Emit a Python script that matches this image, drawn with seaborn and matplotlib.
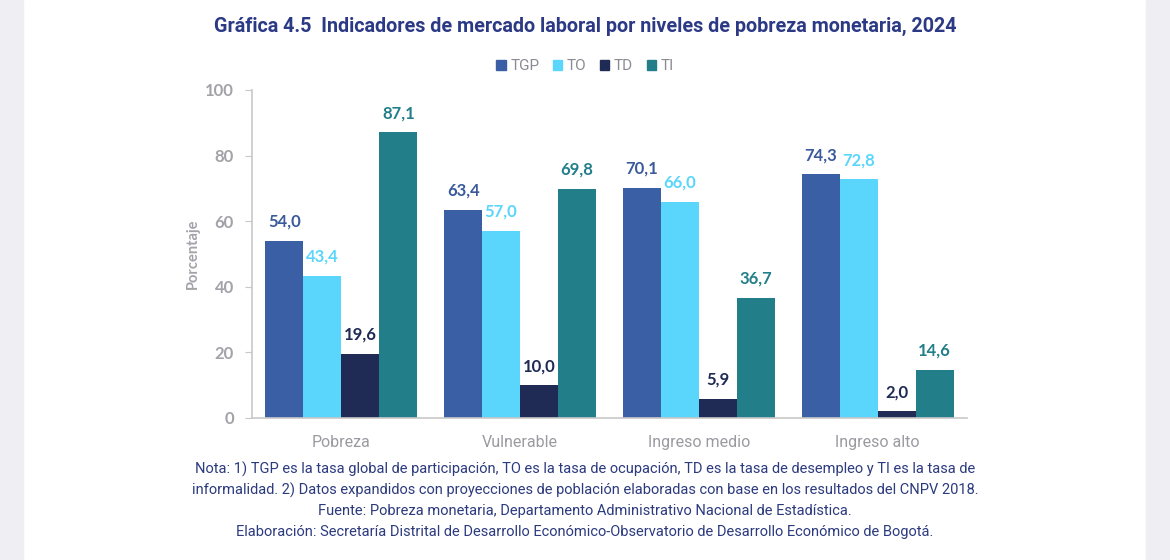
import pandas as pd
import numpy as np
import matplotlib.pyplot as plt
import seaborn as sns
from matplotlib.patches import Rectangle

categorias = ['Pobreza', 'Vulnerable', 'Ingreso medio', 'Ingreso alto']
indicadores = ['TGP', 'TO', 'TD', 'TI']
tgp = [54.0, 63.4, 70.1, 74.3]
to = [43.4, 57.0, 66.0, 72.8]
td = [19.6, 10.0, 5.9, 2.0]
ti = [87.1, 69.8, 36.7, 14.6]

colores = ['#3A5FA5', '#5AD6FC', '#1F2A55', '#227F8A']
color_etiquetas = ['#3A5A9C', '#5AD6FC', '#1F2A55', '#227F8A']

titulo = 'Gráfica 4.5  Indicadores de mercado laboral por niveles de pobreza monetaria, 2024'
notas = ['Nota: 1) TGP es la tasa global de participación, TO es la tasa de ocupación, TD es la tasa de desempleo y TI es la tasa de',
         'informalidad. 2) Datos expandidos con proyecciones de población elaboradas con base en los resultados del CNPV 2018.',
         'Fuente: Pobreza monetaria, Departamento Administrativo Nacional de Estadística.',
         'Elaboración: Secretaría Distrital de Desarrollo Económico-Observatorio de Desarrollo Económico de Bogotá.']

df = pd.DataFrame({'categoria': categorias * 4,
                   'indicador': np.repeat(indicadores, 4),
                   'valor': tgp + to + td + ti})

sns.set_style('white')
plt.rcParams['font.family'] = ['Roboto', 'DejaVu Sans']

fig = plt.figure(figsize=(11.7, 5.6), dpi=100, facecolor='white')
ax = fig.add_axes([0.2154, 0.2536, 0.6112, 0.5857])

sns.barplot(data=df, x='categoria', y='valor', hue='indicador', order=categorias,
            hue_order=indicadores, palette=colores, width=0.85, saturation=1,
            edgecolor='none', ax=ax, legend=False)

for cont, col in zip(ax.containers, color_etiquetas):
    labs = [f'{b.get_height():.1f}'.replace('.', ',') for b in cont]
    ax.bar_label(cont, labels=labs, padding=8, color=col, fontsize=12,
                 fontweight='bold', family=['Lato', 'DejaVu Sans'])

ax.set_ylim(0, 100)
ax.set_xlim(-0.5, 3.5)
ax.set_yticks([0, 20, 40, 60, 80, 100])
ax.tick_params(axis='y', left=True, length=5, color='#C8C8C8', labelsize=12,
               labelcolor='#A2A2A8', pad=8)
for t in ax.get_yticklabels():
    t.set_family(['Lato', 'DejaVu Sans'])
    t.set_fontweight('bold')
ax.tick_params(axis='x', length=0, labelsize=11.5, labelcolor='#9A9AA0', pad=12)
ax.set_xlabel('')
ax.set_ylabel('Porcentaje', color='#A2A2A8', fontsize=10.5, labelpad=4,
              family=['Lato', 'DejaVu Sans'], fontweight='bold')
sns.despine(ax=ax, top=True, right=True)
for s in ['left', 'bottom']:
    ax.spines[s].set_color('#C8C8C8')
    ax.spines[s].set_linewidth(1.2)

handles = [Rectangle((0, 0), 1, 1, color=c) for c in colores]
fig.legend(handles, indicadores, loc='center', bbox_to_anchor=(0.5, 0.882), ncol=4,
           frameon=False, handlelength=0.6, handleheight=0.6, columnspacing=0.9,
           handletextpad=0.3, fontsize=11, labelcolor='#8A8A92')

fig.text(0.5, 0.953, titulo, ha='center', va='center', fontsize=14.2,
         fontweight='bold', color='#2C3A86')
for i, linea in enumerate(notas):
    fig.text(0.5, 1 - (469 + 21 * i) / 560, linea, ha='center', va='center',
             fontsize=10.5, color='#2C3A7E')

fig.add_artist(Rectangle((0, 0), 23 / 1170, 1, transform=fig.transFigure,
                         color='#EEEEF3', zorder=-1))
fig.add_artist(Rectangle((1146 / 1170, 0), 24 / 1170, 1, transform=fig.transFigure,
                         color='#EEEEF3', zorder=-1))

fig.savefig('out.png', dpi=100, facecolor='white')
